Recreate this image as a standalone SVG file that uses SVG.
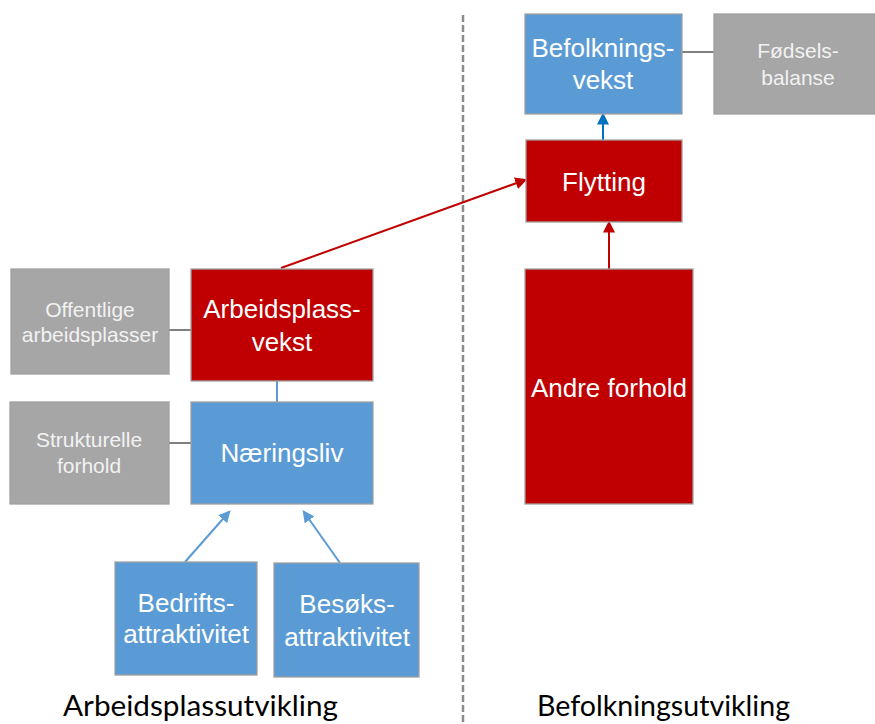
<svg xmlns="http://www.w3.org/2000/svg" width="875" height="724" viewBox="0 0 875 724">
<style>
  .box{stroke:#a0a0a0;stroke-width:1.3}
  .red{fill:#c00000}
  .blue{fill:#5b9bd5}
  .gray{fill:#a6a6a6}
  .t{font-family:"Liberation Sans",Arial,sans-serif;fill:#ffffff;text-anchor:middle}
  .big{font-size:26px}
  .small{font-size:21px;fill:#f2f2f2}
  .cap{font-family:Lato,"Open Sans",sans-serif;font-size:29px;fill:#000000}
  .ln{fill:none;stroke-width:2}
</style>
<defs>
  <marker id="ahRed" markerUnits="userSpaceOnUse" markerWidth="12" markerHeight="12" viewBox="0 0 10 10" refX="8" refY="5" orient="auto">
    <path d="M0,0 L10,5 L0,10 z" fill="#c00000"/>
  </marker>
  <marker id="ahBlue" markerUnits="userSpaceOnUse" markerWidth="12" markerHeight="12" viewBox="0 0 10 10" refX="8" refY="5" orient="auto">
    <path d="M0,0 L10,5 L0,10 z" fill="#0070c0"/>
  </marker>
  <marker id="ahLight" markerUnits="userSpaceOnUse" markerWidth="12" markerHeight="12" viewBox="0 0 10 10" refX="8" refY="5" orient="auto">
    <path d="M0,0 L10,5 L0,10 z" fill="#5b9bd5"/>
  </marker>
</defs>

<g id="divider">
  <line x1="463" y1="15" x2="463" y2="724" stroke="#8c8c8c" stroke-width="2.5" stroke-dasharray="7,3"/>
</g>

<g id="connectors">
  <line class="ln" x1="169" y1="330" x2="191" y2="330" stroke="#7f7f7f"/>
  <line class="ln" x1="169" y1="443" x2="191" y2="443" stroke="#7f7f7f"/>
  <line class="ln" x1="682" y1="52" x2="714" y2="52" stroke="#7f7f7f"/>
  <line class="ln" x1="277" y1="381" x2="277" y2="402" stroke="#5b9bd5"/>
  <line class="ln" x1="281" y1="268" x2="525" y2="180" stroke="#c00000" stroke-width="2.5" marker-end="url(#ahRed)"/>
  <line class="ln" x1="609" y1="269" x2="609" y2="223" stroke="#c00000" stroke-width="2.5" marker-end="url(#ahRed)"/>
  <line class="ln" x1="603" y1="140" x2="603" y2="115" stroke="#0070c0" stroke-width="2.5" marker-end="url(#ahBlue)"/>
  <line class="ln" x1="185" y1="562" x2="229" y2="512" stroke="#5b9bd5" stroke-width="2.5" marker-end="url(#ahLight)"/>
  <line class="ln" x1="340" y1="563" x2="304" y2="512" stroke="#5b9bd5" stroke-width="2.5" marker-end="url(#ahLight)"/>
</g>

<g id="offentlige">
  <rect class="box gray" x="11" y="269" width="158" height="105"/>
  <text class="t small" x="90" y="317">Offentlige</text>
  <text class="t small" x="90" y="342">arbeidsplasser</text>
</g>
<g id="arbeidsplassvekst">
  <rect class="box red" x="191" y="269" width="182" height="112"/>
  <text class="t big" x="282" y="318">Arbeidsplass-</text>
  <text class="t big" x="282" y="351">vekst</text>
</g>
<g id="strukturelle">
  <rect class="box gray" x="10" y="402" width="159" height="102"/>
  <text class="t small" x="89" y="447">Strukturelle</text>
  <text class="t small" x="89" y="473">forhold</text>
</g>
<g id="naeringsliv">
  <rect class="box blue" x="191" y="402" width="182" height="102"/>
  <text class="t big" x="282" y="462">Næringsliv</text>
</g>
<g id="bedrifts">
  <rect class="box blue" x="115" y="562" width="142" height="113"/>
  <text class="t big" x="186" y="612">Bedrifts-</text>
  <text class="t big" x="186" y="643">attraktivitet</text>
</g>
<g id="besoks">
  <rect class="box blue" x="274" y="563" width="145" height="114"/>
  <text class="t big" x="347" y="613">Besøks-</text>
  <text class="t big" x="347" y="646">attraktivitet</text>
</g>
<g id="befolkningsvekst">
  <rect class="box blue" x="525" y="14" width="157" height="100"/>
  <text class="t big" x="603" y="57">Befolknings-</text>
  <text class="t big" x="603" y="89">vekst</text>
</g>
<g id="fodselsbalanse">
  <rect class="box gray" x="714" y="14" width="165" height="100"/>
  <text class="t small" x="798" y="58">Fødsels-</text>
  <text class="t small" x="798" y="85">balanse</text>
</g>
<g id="flytting">
  <rect class="box red" x="526" y="140" width="156" height="82"/>
  <text class="t big" x="604" y="191">Flytting</text>
</g>
<g id="andreforhold">
  <rect class="box red" x="525" y="269" width="168" height="235"/>
  <text class="t big" x="609" y="397">Andre forhold</text>
</g>

<g id="labels">
  <text class="cap" x="63" y="716" textLength="275" lengthAdjust="spacingAndGlyphs">Arbeidsplassutvikling</text>
  <text class="cap" x="537" y="716" textLength="253" lengthAdjust="spacingAndGlyphs">Befolkningsutvikling</text>
</g>
</svg>
